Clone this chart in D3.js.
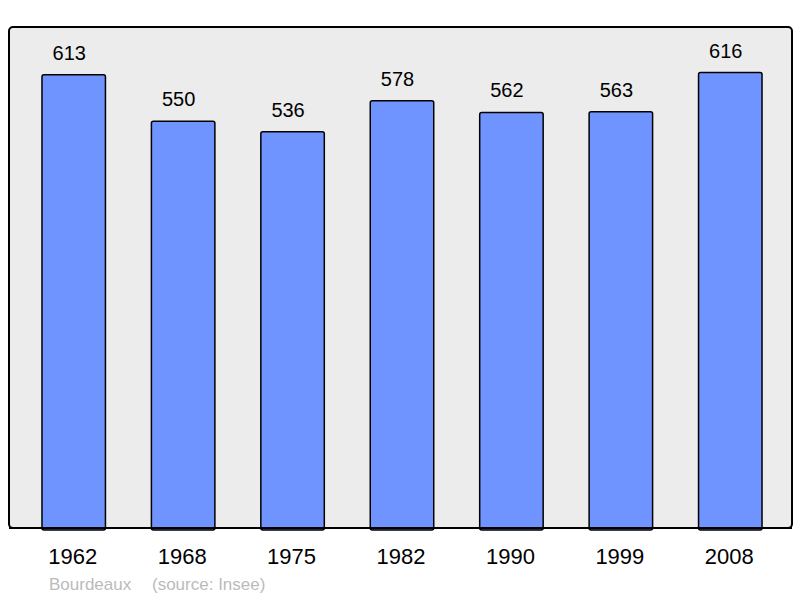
<!DOCTYPE html>
<html>
<head>
<meta charset="utf-8">
<script src="https://cdn.jsdelivr.net/npm/d3@7"></script>
<style>
  body { margin: 0; background: #fff; }
  svg { display: block; font-family: "Liberation Sans", Arial, sans-serif; }
</style>
</head>
<body>
<svg id="chart" width="800" height="598"></svg>
<script>
const years = ["1962", "1968", "1975", "1982", "1990", "1999", "2008"];
const population = [613, 550, 536, 578, 562, 563, 616];
const placeName = "Bourdeaux";
const sourceText = "(source: Insee)";

const panel = { left: 9, top: 27, right: 792, bottom: 528 };

const svg = d3.select("#chart");

// background panel
svg.append("rect")
  .attr("x", panel.left)
  .attr("y", panel.top)
  .attr("width", panel.right - panel.left)
  .attr("height", panel.bottom - panel.top)
  .attr("rx", 4)
  .attr("fill", "#ececec")
  .attr("stroke", "#000")
  .attr("stroke-width", 2);

const xScale = d3.scaleBand()
  .domain(years)
  .range([19, 785])
  .paddingInner(0.42)
  .paddingOuter(0.21);

const yScale = d3.scaleLinear()
  .domain([0, d3.max(population) * 1.1])
  .range([panel.bottom, panel.top]);

const data = years.map((y, i) => ({ year: y, value: population[i] }));

svg.selectAll(".bar")
  .data(data)
  .enter()
  .append("rect")
  .attr("class", "bar")
  .attr("x", d => xScale(d.year))
  .attr("y", d => yScale(d.value))
  .attr("width", xScale.bandwidth())
  .attr("height", d => panel.bottom - yScale(d.value) + 2)
  .attr("rx", 2)
  .attr("fill", "#7094ff")
  .attr("stroke", "#000")
  .attr("stroke-width", 1.5);

// redraw bottom border over bars
svg.append("line")
  .attr("x1", panel.left)
  .attr("x2", panel.right)
  .attr("y1", panel.bottom)
  .attr("y2", panel.bottom)
  .attr("stroke", "#000")
  .attr("stroke-width", 2);

svg.selectAll(".val")
  .data(data)
  .enter()
  .append("text")
  .attr("class", "val")
  .attr("x", d => xScale(d.year) + xScale.bandwidth() / 2 - 4.5)
  .attr("y", d => yScale(d.value) - 15)
  .attr("text-anchor", "middle")
  .attr("font-size", "20px")
  .attr("fill", "#000")
  .text(d => d.value);

const xAxis = d3.axisBottom(xScale).tickSize(0).tickPadding(0);
const xAxisGroup = svg.append("g")
  .attr("transform", `translate(-1, ${panel.bottom})`)
  .call(xAxis);
xAxisGroup.select(".domain").remove();
xAxisGroup.selectAll("text")
  .attr("font-family", "Liberation Sans, Arial, sans-serif")
  .attr("font-size", "22px")
  .attr("fill", "#000")
  .attr("dy", null)
  .attr("y", 36);

svg.append("text")
  .attr("x", 49)
  .attr("y", 590)
  .attr("font-size", "17px")
  .attr("fill", "#bbb")
  .text(placeName);

svg.append("text")
  .attr("x", 152)
  .attr("y", 590)
  .attr("font-size", "17px")
  .attr("fill", "#bbb")
  .text(sourceText);
</script>
</body>
</html>
